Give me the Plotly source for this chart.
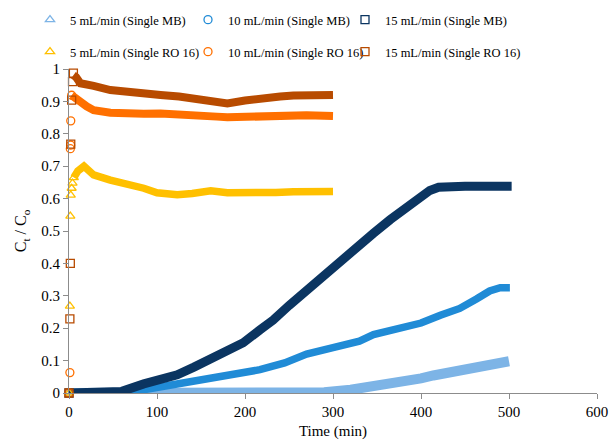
import plotly.graph_objects as go

# Breakthrough data: time (min) and normalised concentration Ct/Co
# --- Single MB ---
t_mb5 = [0, 50, 100, 150, 200, 250, 290, 320, 350, 376, 400, 414, 430, 452, 475, 500]
c_mb5 = [0, 0, 0, 0, 0, 0, 0.002, 0.010, 0.022, 0.030, 0.045, 0.054, 0.062, 0.074, 0.085, 0.098]

t_mb10 = [0, 40, 60, 85, 110, 142, 170, 195, 217, 245, 270, 300, 330, 346, 376, 400,
          422, 444, 463, 478, 490, 501]
c_mb10 = [0, 0, 0.003, 0.010, 0.022, 0.038, 0.052, 0.064, 0.072, 0.093, 0.120, 0.140,
          0.160, 0.180, 0.197, 0.216, 0.240, 0.261, 0.290, 0.315, 0.325, 0.325]

t_mb15 = [0, 47, 60, 85, 105, 123, 142, 161, 180, 198, 217, 232, 250, 270, 290, 308,
          327, 346, 365, 384, 399, 410, 420, 430, 450, 475, 503]
c_mb15 = [0, 0, 0.005, 0.028, 0.040, 0.056, 0.080, 0.105, 0.130, 0.155, 0.195, 0.225,
          0.270, 0.318, 0.360, 0.400, 0.450, 0.493, 0.535, 0.575, 0.605, 0.625, 0.635,
          0.638, 0.638, 0.638, 0.638]

# --- Single RO 16 ---
t_ro5_start = [0, 1, 1.5, 2, 3, 4, 5.5]
c_ro5_start = [0, 0.268, 0.546, 0.611, 0.632, 0.648, 0.665]
t_ro5 = [5.5, 10, 17, 22, 28, 47, 66, 85, 100, 123, 140, 161, 180, 200, 217, 235, 255,
         275, 293, 300]
c_ro5 = [0.665, 0.685, 0.700, 0.685, 0.673, 0.657, 0.647, 0.632, 0.618, 0.612, 0.616,
         0.624, 0.618, 0.620, 0.623, 0.619, 0.621, 0.624, 0.625, 0.622]

t_ro10_start = [0, 1, 1.5, 1.8, 2, 3]
c_ro10_start = [0, 0.063, 0.754, 0.765, 0.840, 0.919]
t_ro10 = [3, 8, 13, 20, 28, 47, 66, 85, 104, 125, 142, 168, 180, 200, 220, 243, 270, 300]
c_ro10 = [0.919, 0.905, 0.899, 0.885, 0.873, 0.865, 0.862, 0.862, 0.863, 0.858, 0.853,
          0.853, 0.851, 0.853, 0.856, 0.857, 0.857, 0.855]

t_ro15_start = [0, 1, 1.5, 2, 3, 4, 5]
c_ro15_start = [0, 0.229, 0.400, 0.768, 0.904, 0.961, 0.987]
t_ro15 = [5, 8, 13, 20, 28, 47, 66, 85, 104, 125, 142, 160, 180, 200, 217, 240, 255, 280, 300]
c_ro15 = [0.981, 0.975, 0.956, 0.950, 0.948, 0.935, 0.928, 0.925, 0.920, 0.915, 0.910,
          0.905, 0.894, 0.903, 0.910, 0.915, 0.918, 0.920, 0.920]

series = [
    # name, t_start, c_start, t_band, c_band, colour, symbol, band width
    ("5 mL/min (Single MB)", [0], [0], t_mb5, c_mb5, "#7DB4E6", "triangle-up-open", 10),
    ("10 mL/min (Single MB)", [0], [0], t_mb10, c_mb10, "#208BD6", "circle-open", 7.5),
    ("15 mL/min (Single MB)", [0], [0], t_mb15, c_mb15, "#0B3561", "square-open", 9),
    ("5 mL/min (Single RO 16)", t_ro5_start, c_ro5_start, t_ro5, c_ro5, "#FFC000", "triangle-up-open", 7.5),
    ("10 mL/min (Single RO 16)", t_ro10_start, c_ro10_start, t_ro10, c_ro10, "#FF7000", "circle-open", 8),
    ("15 mL/min (Single RO 16)", t_ro15_start, c_ro15_start, t_ro15, c_ro15, "#B84B00", "square-open", 8),
]

font_family = "Liberation Serif, Times New Roman, serif"
axis_col = "#8C8C8C"

# one legend box per entry: 3 columns x 2 rows above the plot
legend_cols_px = [30, 188, 345]
legend_rows_px = [20, 52]

fig = go.Figure()
legend_layout = {}
for i, (name, ts, cs, tb, cb, col, sym, lw) in enumerate(series):
    leg_id = "legend" if i == 0 else f"legend{i + 1}"
    # dense measurement band
    fig.add_trace(go.Scatter(
        x=tb, y=cb, mode="lines", line=dict(color=col, width=lw),
        showlegend=False, legendgroup=name, hoverinfo="skip", cliponaxis=False))
    # individual early readings + legend entry
    fig.add_trace(go.Scatter(
        x=ts, y=cs, mode="markers", name=name, legendgroup=name, legend=leg_id,
        marker=dict(symbol=sym, size=8, color=col, line=dict(color=col, width=1.3)),
        cliponaxis=False))
    legend_layout[leg_id] = dict(
        xref="container", yref="container",
        x=legend_cols_px[i % 3] / 615, y=1 - legend_rows_px[i // 3] / 440,
        xanchor="left", yanchor="middle", orientation="h",
        font=dict(family=font_family, size=12.5), bgcolor="rgba(0,0,0,0)")

fig.update_layout(
    width=615, height=440,
    margin=dict(l=68.5, r=18, t=69, b=47, autoexpand=False),
    paper_bgcolor="white", plot_bgcolor="white",
    font=dict(family=font_family, color="black", size=15),
    xaxis=dict(range=[0, 600], dtick=100, tick0=0, showgrid=False, zeroline=False,
               showline=True, linecolor=axis_col, linewidth=1,
               ticks="outside", ticklen=5, tickcolor=axis_col,
               tickfont=dict(family=font_family, size=15), automargin=False,
               title=dict(text="Time (min)", font=dict(family=font_family, size=15), standoff=6)),
    yaxis=dict(range=[0, 1], dtick=0.1, tick0=0, showgrid=False, zeroline=False,
               showline=True, linecolor=axis_col, linewidth=1,
               ticks="outside", ticklen=5, tickcolor=axis_col,
               tickfont=dict(family=font_family, size=15), automargin=False,
               title=dict(text="C<sub>t</sub> / C<sub>o</sub>",
                          font=dict(family=font_family, size=16), standoff=10)),
    **legend_layout,
)

fig.write_html("out.html")
